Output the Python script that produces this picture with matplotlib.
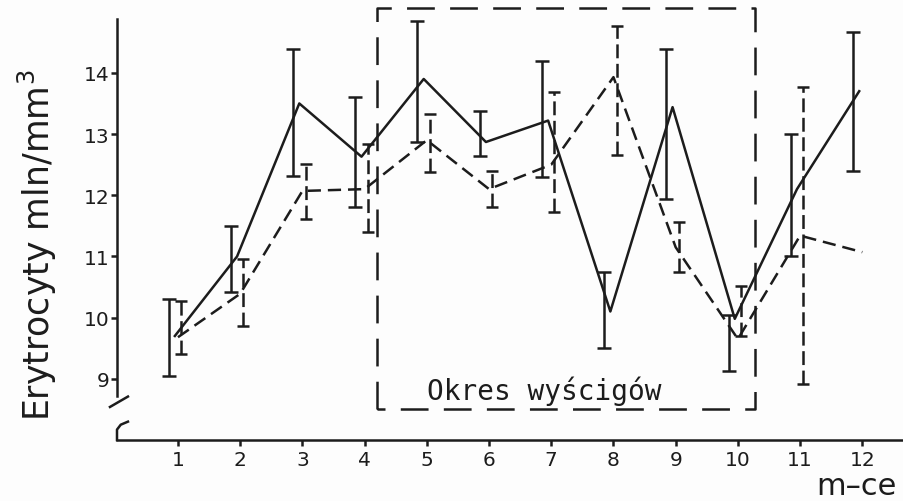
import numpy as np
import matplotlib
matplotlib.use('Agg')
import matplotlib.pyplot as plt

plt.rcParams['lines.scale_dashes'] = False

months = np.arange(1, 13)

# grupa 1 (linia ciagla): srednia oraz dolny/gorny koniec odcinka bledu
mean_a = [9.70, 11.00, 13.50, 12.63, 13.90, 12.87, 13.22, 10.10, 13.44, 9.98, 12.10, 13.70]
low_a = [9.05, 10.42, 12.32, 11.80, 12.87, 12.64, 12.30, 9.50, 11.94, 9.13, 11.00, 12.40]
high_a = [10.30, 11.50, 14.39, 13.60, 14.85, 13.38, 14.20, 10.75, 14.39, 10.05, 13.00, 14.67]

# grupa 2 (linia przerywana), w grudniu bez odcinka bledu
mean_b = [9.68, 10.39, 12.07, 12.10, 12.90, 12.10, 12.50, 13.93, 11.15, 9.65, 11.34, 11.07]
low_b = [9.41, 9.87, 11.61, 11.40, 12.38, 11.80, 11.72, 12.65, 10.75, 9.70, 8.92, np.nan]
high_b = [10.27, 10.96, 12.51, 12.84, 13.33, 12.40, 13.69, 14.77, 11.56, 10.52, 13.77, np.nan]

# okres wyscigow (ramka)
race_start, race_end = 4.2, 10.28
race_bottom, race_top = 8.51, 15.06

ink = '#1c1c1c'
lw = 1.8
dash = (0, (9.5, 5))

fig = plt.figure(figsize=(9.04, 5.02), dpi=100)
fig.patch.set_facecolor('#fdfdfd')
ax = fig.add_axes([117 / 904, 61 / 502, 787 / 904, 421 / 502])
ax.set_facecolor('#fdfdfd')
ax.set_xlim(0.02, 12.67)
ax.set_ylim(8.0, 14.88)

mean_a = np.array(mean_a)
mean_b = np.array(mean_b)
low_a, high_a = np.array(low_a), np.array(high_a)
low_b, high_b = np.array(low_b), np.array(high_b)

ax.plot(months - 0.05, mean_a, color=ink, lw=lw)
ax.errorbar(months - 0.15, (low_a + high_a) / 2, yerr=(high_a - low_a) / 2,
            fmt='none', ecolor=ink, elinewidth=lw, capsize=4.8, capthick=lw)

ax.plot(months, mean_b, color=ink, lw=lw, linestyle=dash)
eb = ax.errorbar(months + 0.05, (low_b + high_b) / 2, yerr=(high_b - low_b) / 2,
                 fmt='none', ecolor=ink, elinewidth=lw, capsize=4.0, capthick=lw)
eb[2][0].set_linestyle((0, (10, 4)))

# ramka przerywana
ax.plot([race_start, race_start, race_end, race_end, race_start],
        [race_bottom, race_top, race_top, race_bottom, race_bottom],
        color=ink, lw=lw, linestyle=(0, (20, 11)), clip_on=False)
ax.text(6.88, 8.67, 'Okres wyścigów',
        family='DejaVu Sans Mono', fontsize=20, color=ink,
        ha='center', va='baseline')

# osie
for s in ['top', 'right']:
    ax.spines[s].set_visible(False)
for s in ['left', 'bottom']:
    ax.spines[s].set_linewidth(lw)
    ax.spines[s].set_color(ink)
ax.spines['left'].set_bounds(8.72, 14.88)

# przerwanie osi y
ax.plot([-0.093, 0.196], [8.54, 8.71], color=ink, lw=lw, clip_on=False)
ax.plot([0.02, 0.02, 0.08, 0.196], [8.0, 8.17, 8.25, 8.30],
        color=ink, lw=lw, clip_on=False)

ax.set_xticks(months)
ax.set_yticks(range(9, 15))
ax.tick_params(axis='both', direction='out', length=4.5, width=lw,
               color=ink, labelcolor=ink, labelsize=14.5)
ax.tick_params(axis='y', pad=1)
ax.tick_params(axis='x', pad=3)

fig.text(37 / 904, 1 - 245 / 502, 'Erytrocyty mln/mm$^3$', rotation=90,
         fontsize=25, color=ink, ha='center', va='center')
fig.text(856 / 904, 1 / 502, 'm–ce', fontsize=22, color=ink,
         ha='center', va='bottom')

fig.savefig('out.png', dpi=100, facecolor=fig.get_facecolor())
